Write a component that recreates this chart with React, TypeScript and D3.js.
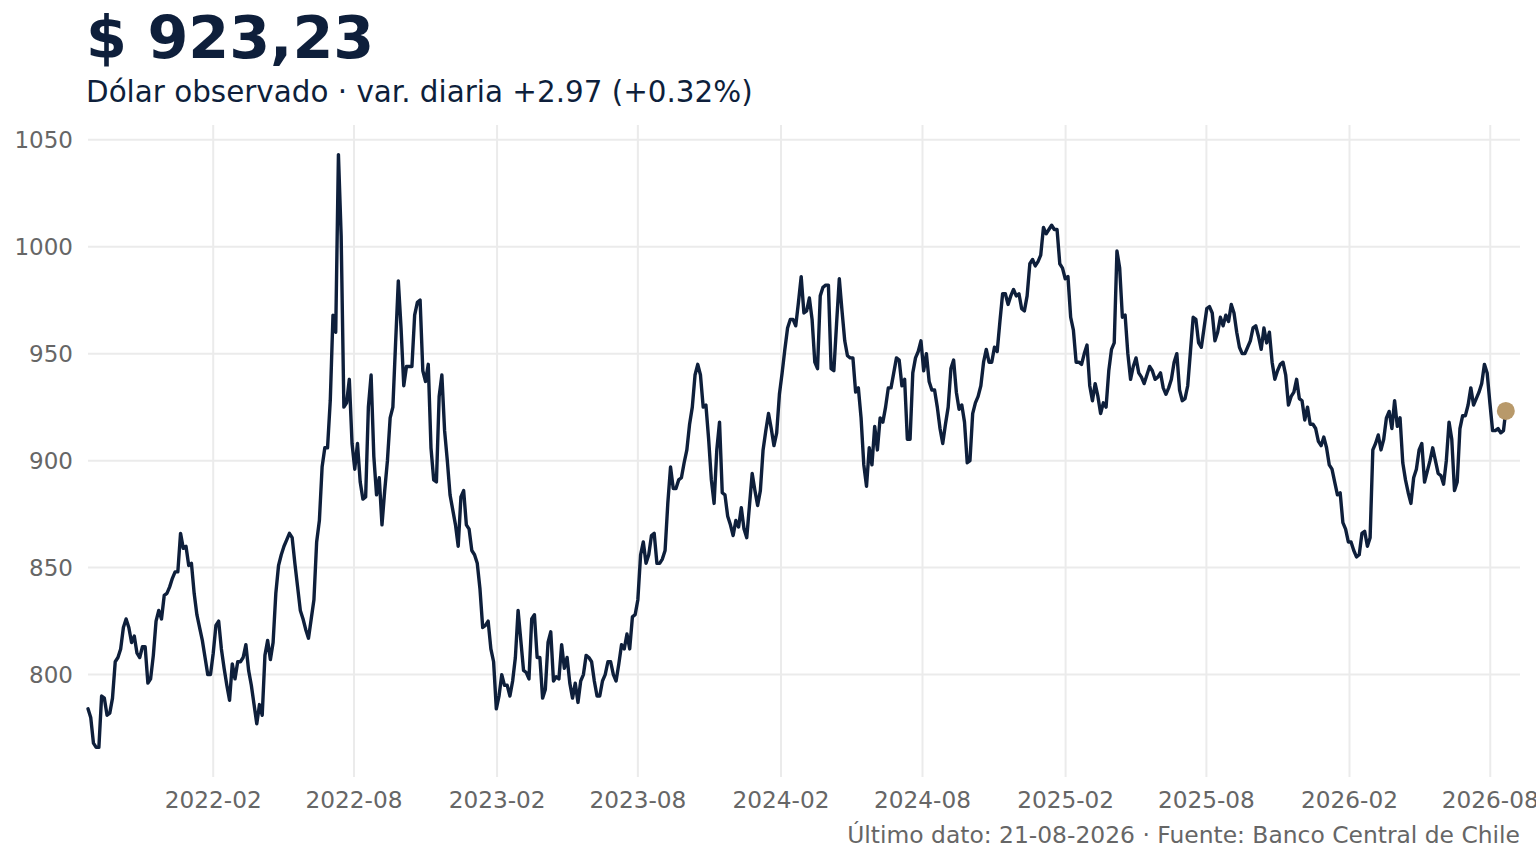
import { useEffect, useRef } from "react";
import * as d3 from "d3";

// Observed dollar rate (CLP per USD), read twice a week off the source chart.
// WEEK_START[i] falls on FIRST_WEEK + 7*i days, MIDWEEK[i] three and a half days later.
const FIRST_WEEK = "2021-08-24";
const WEEK_START = [
  784, 768, 766, 789, 782, 806, 812, 826, 815, 810, 813, 796, 809, 830, 837, 841, 848, 866, 860, 852,
  828, 816, 800, 810, 825, 803, 788, 798, 806, 814, 795, 777, 781, 816, 815, 851, 860, 866, 852, 830,
  821, 826, 862, 897, 906, 968, 1043, 925, 938, 896, 890, 883, 940, 884, 870, 900, 925, 984, 935, 944,
  968, 975, 937, 906, 890, 940, 900, 877, 860, 886, 868, 856, 840, 823, 812, 784, 800, 795, 797, 830,
  802, 798, 828, 808, 793, 820, 799, 814, 808, 789, 787, 800, 808, 797, 790, 800, 806, 797, 814, 819,
  827, 835, 862, 856, 866, 852, 858, 897, 887, 892, 905, 925, 945, 925, 910, 880, 918, 884, 870, 872,
  878, 864, 894, 879, 905, 922, 907, 931, 952, 966, 963, 986, 970, 966, 943, 981, 982, 942, 985, 956,
  948, 932, 920, 888, 898, 905, 918, 934, 941, 947, 938, 910, 948, 956, 950, 933, 925, 908, 925, 947,
  924, 918, 900, 927, 935, 952, 946, 951, 978, 973, 980, 978, 970, 992, 991, 996, 1006, 1010, 1008, 990,
  986, 961, 946, 950, 935, 936, 922, 925, 952, 998, 967, 950, 944, 941, 936, 944, 938, 941, 931, 938,
  950, 928, 935, 967, 955, 962, 972, 956, 967, 968, 973, 960, 950, 953, 962, 958, 962, 960, 938, 945,
  940, 930, 938, 928, 925, 917, 909, 911, 898, 890, 885, 868, 862, 855, 866, 860, 905, 912, 910, 923,
  928, 920, 891, 880, 896, 908, 895, 906, 894, 889, 918, 886, 915, 921, 934, 929, 936, 941, 914, 915,
  914,
];
const MIDWEEK = [
  780, 766, 790, 781, 789, 808, 822, 822, 818, 808, 813, 798, 825, 826, 838, 845, 848, 859, 851, 838,
  822, 808, 800, 823, 812, 795, 805, 806, 808, 802, 786, 786, 809, 807, 838, 856, 863, 864, 841, 826,
  817, 835, 872, 906, 928, 960, 1005, 927, 908, 908, 882, 925, 902, 892, 886, 920, 955, 962, 944, 944,
  974, 942, 945, 891, 930, 914, 884, 870, 883, 870, 858, 852, 822, 825, 806, 790, 795, 790, 808, 816,
  801, 826, 808, 789, 815, 797, 798, 803, 796, 796, 797, 809, 806, 790, 797, 806, 800, 805, 812, 812,
  828, 856, 852, 865, 852, 854, 880, 887, 891, 899, 917, 940, 940, 926, 891, 905, 885, 874, 865, 869,
  868, 879, 886, 886, 914, 915, 913, 941, 962, 966, 974, 969, 976, 946, 977, 982, 943, 964, 970, 949,
  948, 934, 898, 906, 916, 920, 925, 934, 948, 935, 910, 941, 951, 942, 937, 933, 915, 917, 943, 932,
  926, 899, 922, 930, 946, 946, 953, 965, 978, 977, 977, 971, 977, 994, 993, 1009, 1008, 1008, 992, 985,
  967, 946, 945, 954, 928, 930, 927, 942, 955, 990, 968, 938, 948, 939, 940, 942, 939, 934, 934, 946,
  933, 929, 951, 966, 953, 971, 969, 960, 963, 965, 969, 953, 950, 956, 963, 952, 955, 946, 942, 946,
  926, 932, 929, 919, 917, 915, 907, 906, 896, 884, 871, 862, 858, 856, 867, 864, 908, 905, 920, 915,
  916, 899, 885, 892, 905, 890, 900, 900, 893, 900, 910, 890, 921, 926, 926, 932, 945, 927, 914, 913,
];
const PREV_DAY = { date: "2026-08-20", value: 920.26 };
const LAST_DAY = { date: "2026-08-21", value: 923.23 };

const X_TICKS = ["2022-02", "2022-08", "2023-02", "2023-08", "2024-02", "2024-08", "2025-02", "2025-08", "2026-02", "2026-08"];
const Y_TICKS = [800, 850, 900, 950, 1000, 1050];

const TITLE = "$ 923,23";
const SUBTITLE = "Dólar observado · var. diaria +2.97 (+0.32%)";
const CAPTION = "Último dato: 21-08-2026 · Fuente: Banco Central de Chile";

const INK = "#0e1f3b";
const GOLD = "#b8996a";
const GRID = "#ebebeb";
const MUTED = "#666666";
const FONT = "'DejaVu Sans', sans-serif";

type Pt = { date: Date; value: number };

export default function App() {
  const ref = useRef<SVGSVGElement>(null);

  useEffect(() => {
    const el = ref.current;
    if (!el) return;
    const W = 1536, H = 864;
    const M = { top: 125, right: 16, bottom: 87, left: 88 };
    const svg = d3.select(el).attr("width", W).attr("height", H).attr("viewBox", `0 0 ${W} ${H}`);
    svg.selectAll("*").remove();

    const parse = d3.utcParse("%Y-%m-%d");
    const start = parse(FIRST_WEEK)!;
    const series: Pt[] = [];
    WEEK_START.forEach((v, i) => {
      const d = d3.utcDay.offset(start, 7 * i);
      series.push({ date: d, value: v });
      if (i < MIDWEEK.length) series.push({ date: d3.utcHour.offset(d, 84), value: MIDWEEK[i] });
    });
    series.push({ date: parse(PREV_DAY.date)!, value: PREV_DAY.value });
    const last: Pt = { date: parse(LAST_DAY.date)!, value: LAST_DAY.value };
    const all = [...series, last];

    // like ggplot here: no padding on the left, 1% on the right, 5% on y
    const [d0, d1] = d3.extent(all, (d) => d.date) as [Date, Date];
    const x = d3.scaleUtc()
      .domain([d0, new Date(+d1 + (+d1 - +d0) * 0.01)])
      .range([M.left, W - M.right]);
    const [v0, v1] = d3.extent(all, (d) => d.value) as [number, number];
    const pad = (v1 - v0) * 0.05;
    const y = d3.scaleLinear().domain([v0 - pad, v1 + pad]).range([H - M.bottom, M.top]);

    const tickDate = d3.utcParse("%Y-%m");

    const grid = svg.append("g");
    grid.selectAll("line.h").data(Y_TICKS).join("line")
      .attr("x1", M.left).attr("x2", W - M.right).attr("y1", (d) => y(d)).attr("y2", (d) => y(d))
      .attr("stroke", GRID).attr("stroke-width", 2);
    grid.selectAll("line.v").data(X_TICKS).join("line")
      .attr("x1", (d) => x(tickDate(d)!)).attr("x2", (d) => x(tickDate(d)!))
      .attr("y1", M.top).attr("y2", H - M.bottom)
      .attr("stroke", GRID).attr("stroke-width", 2);

    svg.append("g").selectAll("text").data(Y_TICKS).join("text")
      .attr("x", M.left - 15).attr("y", (d) => y(d)).attr("dy", "0.36em").attr("text-anchor", "end")
      .attr("fill", MUTED).attr("font-family", FONT).attr("font-size", 23).text((d) => d);

    svg.append("g").selectAll("text").data(X_TICKS).join("text")
      .attr("x", (d) => x(tickDate(d)!)).attr("y", H - M.bottom + 31).attr("text-anchor", "middle")
      .attr("fill", MUTED).attr("font-family", FONT).attr("font-size", 23.2).text((d) => d);

    const line = d3.line<Pt>().x((d) => x(d.date)).y((d) => y(d.value));
    svg.append("path").datum(series)
      .attr("d", line).attr("fill", "none").attr("stroke", INK).attr("stroke-width", 3.4)
      .attr("stroke-linejoin", "round").attr("stroke-linecap", "round");

    svg.append("circle").attr("cx", x(last.date)).attr("cy", y(last.value)).attr("r", 9).attr("fill", GOLD);

    svg.append("text").attr("x", 86).attr("y", 58)
      .attr("fill", INK).attr("font-family", FONT).attr("font-weight", "bold").attr("font-size", 58.8).text(TITLE);
    svg.append("text").attr("x", 86).attr("y", 102)
      .attr("fill", INK).attr("font-family", FONT).attr("font-size", 29.4).text(SUBTITLE);
    svg.append("text").attr("x", W - M.right).attr("y", 843).attr("text-anchor", "end")
      .attr("fill", MUTED).attr("font-family", FONT).attr("font-size", 23.4).text(CAPTION);
  }, []);

  return <svg ref={ref} role="img" aria-label="Dólar observado" style={{ position: "absolute", left: 0, top: 0 }} />;
}
